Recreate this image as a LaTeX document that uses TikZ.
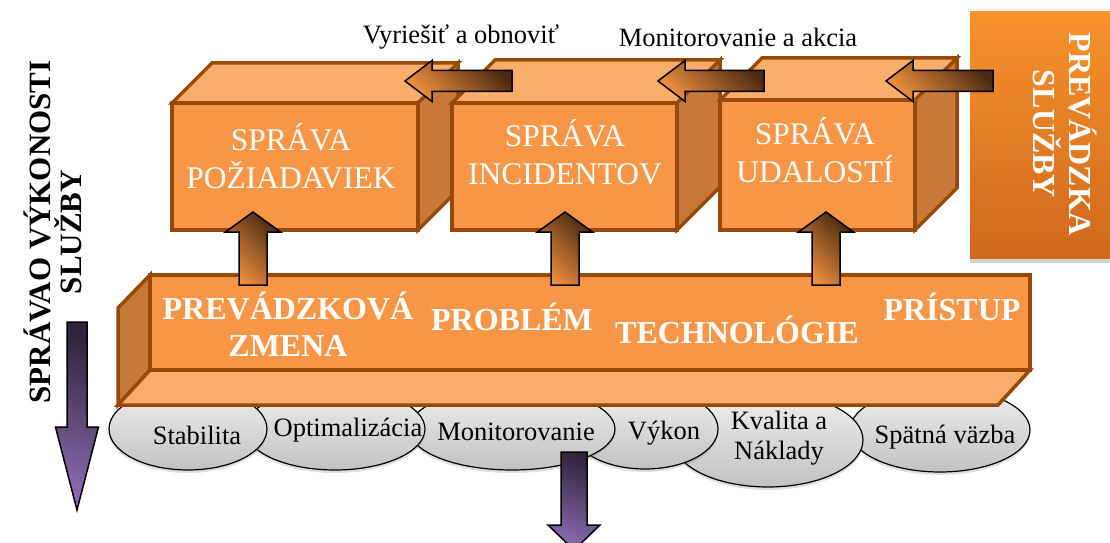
\documentclass[tikz,border=0pt]{standalone}
\usepackage{fontspec}
\setmainfont{Liberation Serif}
\usetikzlibrary{shapes.geometric, shadows}

\definecolor{faceorange}{HTML}{F79646}
\definecolor{toporange}{HTML}{F9AD6B}
\definecolor{sideorange}{HTML}{C77A38}
\definecolor{edgebrown}{HTML}{984807}
\definecolor{arrowlight}{HTML}{F0903F}
\definecolor{arrowdark}{HTML}{4A2A10}
\definecolor{purplelight}{HTML}{8A6BB0}
\definecolor{purpledark}{HTML}{30243D}
\definecolor{svctop}{HTML}{F7922C}
\definecolor{svcbottom}{HTML}{CF681E}
\definecolor{ovaltop}{HTML}{EFEFEF}
\definecolor{ovalbottom}{HTML}{C2C2C2}

\tikzset{
  frontface/.style={fill=faceorange, draw=edgebrown, line width=3.5pt},
  topface/.style={fill=toporange, draw=edgebrown, line width=3.5pt},
  sideface/.style={fill=sideorange, draw=edgebrown, line width=3.5pt},
  blockarrow/.style={draw=black, line width=1.5pt, top color=arrowdark, bottom color=arrowlight, shading angle=-45},
  purplearrow/.style={draw=black, line width=1.5pt, top color=purpledark, bottom color=purplelight, shading angle=-20},
  oval/.style={ellipse, draw=black, line width=1.2pt, top color=ovaltop, bottom color=ovalbottom, inner sep=0pt,
    drop shadow={opacity=0.25, shadow xshift=0pt, shadow yshift=-3pt}},
  ovaltext/.style={font=\fontsize{26.5}{30}\selectfont, align=center},
  boxtext/.style={text=white, font=\fontsize{31.5}{38}\selectfont, align=center},
  bartext/.style={text=white, font=\bfseries\fontsize{32}{37}\selectfont, align=center},
  toplabel/.style={font=\fontsize{26.5}{30}\selectfont}
}

\begin{document}
\begin{tikzpicture}[x=1pt, y=1pt]
    \useasboundingbox (0,0) rectangle (1110,542);
    \clip (0,0) rectangle (1110,542);

    % Ellipses under the bar (right one lies lowest)
    \node[oval, minimum width=180pt, minimum height=84pt] (spat) at (940,112) {};
    \node[oval, minimum width=190pt, minimum height=94pt] (kval) at (768,102) {};
    \node[oval, minimum width=146pt, minimum height=80pt] (vyk) at (645,113) {};
    \node[oval, minimum width=206pt, minimum height=82pt] (mon) at (512,113) {};
    \node[oval, minimum width=180pt, minimum height=82pt] (opt) at (335,113) {};
    \node[oval, minimum width=158pt, minimum height=82pt] (stab) at (188,113) {};
    \node[ovaltext] (stabt) at (197,107) {Stabilita};
    \node[ovaltext] (optt) at (348,112) {Optimalizácia};
    \node[ovaltext] (mont) at (516,110) {Monitorovanie};
    \node[ovaltext] (vykt) at (664,109) {Výkon};
    \node[ovaltext] (kvalt) at (779,104) {Kvalita a\\Náklady};
    \node[ovaltext] (spatt) at (945,105) {Spätná väzba};

    % Long bar (seen from below)
    \filldraw[sideface] (150,267) -- (150,172) -- (118,137) -- (118,234) -- cycle;
    \filldraw[topface] (150,172) -- (1030,172) -- (998,137) -- (118,137) -- cycle;
    \filldraw[frontface] (150,172) rectangle (1030,267);
    \node[bartext] (chg) at (288,218) {PREVÁDZKOVÁ\\ZMENA};
    \node[bartext] (prob) at (512,225) {PROBLÉM};
    \node[bartext] (tech) at (737,212) {TECHNOLÓGIE};
    \node[bartext] (acc) at (952,235) {PRÍSTUP};

    % Three boxes
    \foreach \xa/\xb/\yt/\d in {172/418/439/40, 452/677/439/43, 720/915/442/42} {
      \filldraw[topface] (\xa,\yt) -- (\xb,\yt) -- (\xb+\d,\yt+\d) -- (\xa+\d,\yt+\d) -- cycle;
      \filldraw[sideface] (\xb,\yt) -- (\xb+\d,\yt+\d) -- (\xb+\d,312+\d) -- (\xb,312) -- cycle;
      \filldraw[frontface] (\xa,312) rectangle (\xb,\yt);
    }
    \node[boxtext] (req) at (291,386) {SPRÁVA\\POŽIADAVIEK};
    \node[boxtext] (inc) at (565,390) {SPRÁVA\\INCIDENTOV};
    \node[boxtext] (evt) at (815,392) {SPRÁVA\\UDALOSTÍ};

    % Arrows from the bar up into the boxes
    \foreach \cx in {253,565,826} {
      \path[blockarrow] (\cx-14,257) -- (\cx-14,310) -- (\cx-27.5,310) -- (\cx,330)
        -- (\cx+27.5,310) -- (\cx+14,310) -- (\cx+14,257) -- cycle;
    }

    % Service operation panel
    \fill[gray!35] (970,279) rectangle (1110,286);
    \path[top color=svctop, bottom color=svcbottom] (970,284) rectangle (1110,530);
    \node[rotate=-90, text=white, font=\bfseries\fontsize{32}{36}\selectfont, align=center] (svc) at (1065,408) {PREVÁDZKA\\SLUŽBY};

    % Arrows along the top faces
    \foreach \tip/\tail in {405/512, 658/764, 886/993} {
      \path[blockarrow] (\tip,461) -- (\tip+27,481.5) -- (\tip+27,471.5) -- (\tail,471.5)
        -- (\tail,450.5) -- (\tip+27,450.5) -- (\tip+27,440.5) -- cycle;
    }
    \node[toplabel] (solve) at (461,505) {Vyriešiť a obnoviť};
    \node[toplabel] (watch) at (738,505) {Monitorovanie a akcia};

    % Performance side label and the two purple arrows
    \node[rotate=90, font=\bfseries\fontsize{31}{31}\selectfont, align=center] (perf) at (53,310) {SPRÁVAO VÝKONOSTI\\SLUŽBY};
    \path[purplearrow] (67,220) -- (87,220) -- (87,115) -- (98.5,115) -- (77,32) -- (55.5,115) -- (67,115) -- cycle;
    \path[purplearrow] (561,90) -- (587,90) -- (587,17) -- (600,17) -- (574,-8) -- (548,17) -- (561,17) -- cycle;
\end{tikzpicture}
\end{document}
